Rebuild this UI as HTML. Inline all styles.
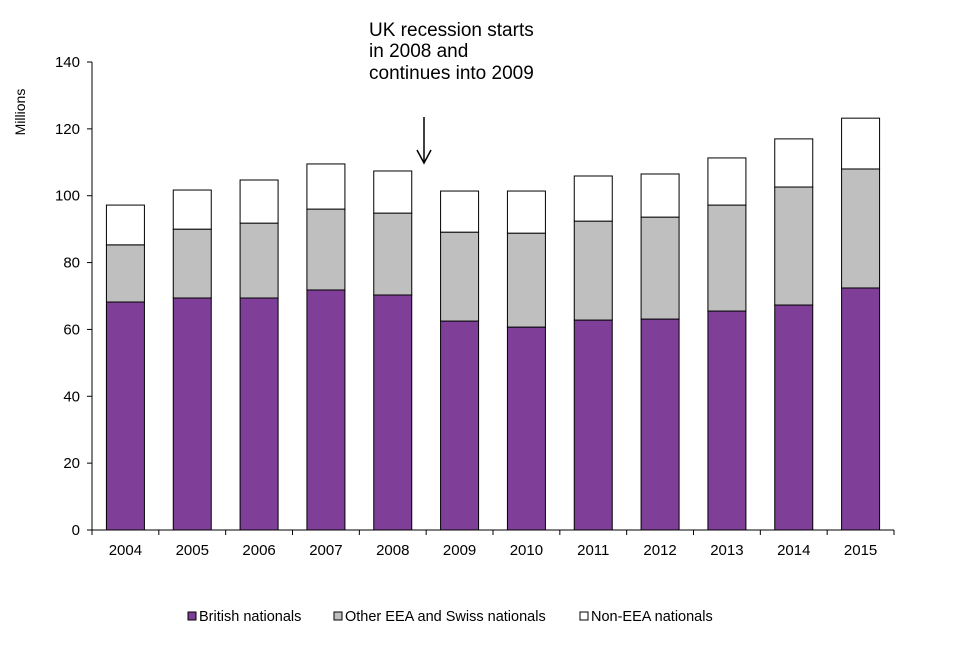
<!DOCTYPE html>
<html><head><meta charset="utf-8"><style>
body{margin:0;background:#fff;font-family:"Liberation Sans",Arial,sans-serif;}
svg text{font-family:"Liberation Sans",Arial,sans-serif;fill:#000;}
</style></head><body>
<svg id="chart" width="960" height="640" viewBox="0 0 960 640">
<g id="axes"></g><g id="bars"></g>
<text x="25" y="112" font-size="14" transform="rotate(-90 25 112)" text-anchor="middle">Millions</text>
<g>
<text x="369" y="36" font-size="19">UK recession starts</text>
<text x="369" y="57" font-size="19">in 2008 and</text>
<text x="369" y="79" font-size="19">continues into 2009</text>
<line x1="424" y1="117" x2="424" y2="162" stroke="#000" stroke-width="1.5"/>
<path d="M417,150 L424,163 L431,150" fill="none" stroke="#000" stroke-width="1.5"/>
</g>
<g>
<rect x="188" y="612" width="8" height="8" fill="#7f3f98" stroke="#000"/><text x="199" y="621" font-size="14.5">British nationals</text>
<rect x="334" y="612" width="8" height="8" fill="#bfbfbf" stroke="#000"/><text x="345" y="621" font-size="14.5">Other EEA and Swiss nationals</text>
<rect x="580" y="612" width="8" height="8" fill="#fff" stroke="#000"/><text x="591" y="621" font-size="14.5">Non-EEA nationals</text>
</g>
</svg>
<script>
const years=["2004","2005","2006","2007","2008","2009","2010","2011","2012","2013","2014","2015"];
const british=[68.2,69.4,69.4,71.8,70.3,62.5,60.7,62.8,63.1,65.5,67.3,72.4];
const otherEEA=[17.1,20.6,22.4,24.2,24.5,26.6,28.1,29.6,30.5,31.7,35.3,35.6];
const nonEEA=[11.9,11.7,12.9,13.5,12.6,12.3,12.6,13.5,12.9,14.1,14.4,15.2];
const yTicks=[0,20,40,60,80,100,120,140];
const NS="http://www.w3.org/2000/svg";
const x0=92,x1=894,yb=530,yt=62,ymax=140;
const bw=(x1-x0)/years.length;
const y=v=>yb-(v/ymax)*(yb-yt);
const xc=i=>x0+bw*(i+0.5);
function mk(t,a,p){const e=document.createElementNS(NS,t);for(const k in a)e.setAttribute(k,a[k]);p.appendChild(e);return e;}
const ax=document.getElementById('axes'),bg=document.getElementById('bars');
const ya=mk('line',{x1:x0,y1:yt,x2:x0,y2:yb,stroke:'#000'},ax);


const xa=mk('line',{x1:x0,y1:yb,x2:x1,y2:yb,stroke:'#000'},ax);


yTicks.forEach(v=>{mk('line',{x1:x0-5,y1:y(v),x2:x0,y2:y(v),stroke:'#000'},ax);
const t=mk('text',{x:x0-12,y:y(v)+5,'font-size':15,'text-anchor':'end'},ax);t.textContent=v;

});
for(let i=0;i<=years.length;i++)mk('line',{x1:x0+bw*i,y1:yb,x2:x0+bw*i,y2:yb+5,stroke:'#000'},ax);
years.forEach((yr,i)=>{const t=mk('text',{x:xc(i),y:yb+25,'font-size':15,'text-anchor':'middle'},ax);t.textContent=yr;


let base=0;
[[british,'#7f3f98','british'],[otherEEA,'#bfbfbf','other-eea'],[nonEEA,'#ffffff','non-eea']].forEach(([arr,c,n])=>{
const v=arr[i];const r=mk('rect',{x:xc(i)-19,y:y(base+v),width:38,height:y(base)-y(base+v),fill:c,stroke:'#000','stroke-width':1},bg);


base+=v;});});
</script>
</body></html>
